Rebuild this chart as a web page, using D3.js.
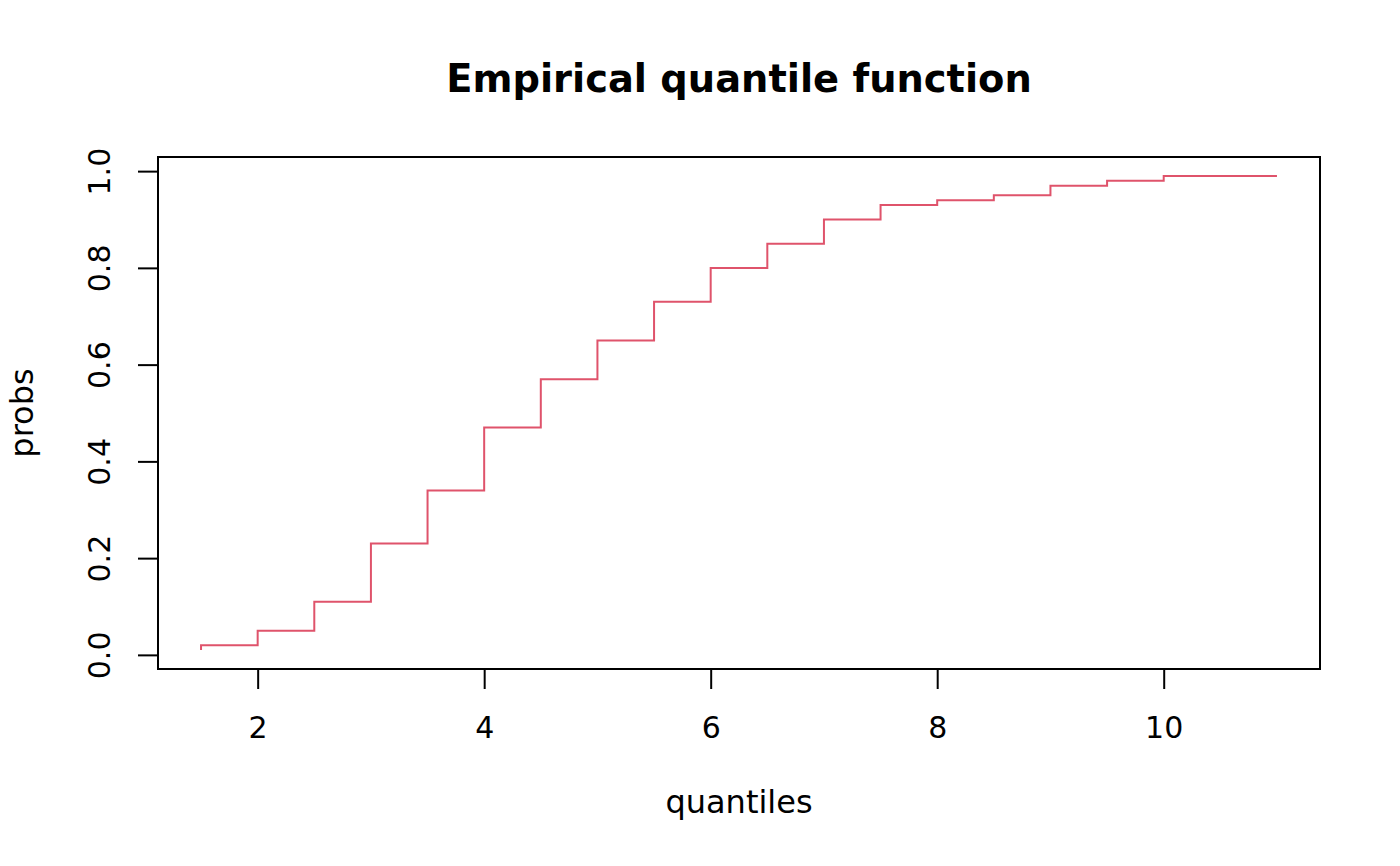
<!DOCTYPE html>
<html><head><meta charset="utf-8">
<script src="https://cdn.jsdelivr.net/npm/d3@7"></script>
<style>body{margin:0;background:#fff}svg{display:block}text{font-family:"DejaVu Sans",sans-serif}</style>
</head><body><svg id="c" width="1400" height="866"></svg>
<script>
const quantiles = [1.5, 1.5, 2, 2.5, 3, 3.5, 4, 4.5, 5, 5.5, 6, 6.5, 7, 7.5, 8, 8.5, 9, 9.5, 10, 11];
const probs     = [0.01, 0.02, 0.05, 0.11, 0.23, 0.34, 0.47, 0.57, 0.65, 0.73, 0.80, 0.85, 0.90, 0.93, 0.94, 0.95, 0.97, 0.98, 0.99, 0.99];
const xTicks = [2, 4, 6, 8, 10];
const yTicks = [0, 0.2, 0.4, 0.6, 0.8, 1.0];
const titleText = "Empirical quantile function";
const xLabel = "quantiles", yLabel = "probs";

const svg = d3.select("#c");
const L = 158, R = 1320, T = 157, B = 669;
const xr = d3.extent(quantiles), yr = d3.extent(probs);
const xp = (xr[1]-xr[0])*0.04, yp = (yr[1]-yr[0])*0.04;
const x = d3.scaleLinear().domain([xr[0]-xp, xr[1]+xp]).range([L, R]);
const y = d3.scaleLinear().domain([yr[0]-yp, yr[1]+yp]).range([B, T]);

const pts = quantiles.map((q,i)=>[q, probs[i]]);
svg.append("path").datum(pts)
  .attr("d", d3.line().x(d=>x(d[0])).y(d=>y(d[1])).curve(d3.curveStepAfter))
  .attr("fill","none").attr("stroke","#DF536B").attr("stroke-width",2);

svg.append("rect").attr("x",L).attr("y",T).attr("width",R-L).attr("height",B-T)
  .attr("fill","none").attr("stroke","#000").attr("stroke-width",2);

const xa = svg.append("g").attr("transform",`translate(0,${B})`)
  .call(d3.axisBottom(x).tickValues(xTicks).tickSize(20).tickPadding(0).tickFormat(d3.format("d")));
xa.select(".domain").attr("d",`M${x(xTicks[0])},0H${x(xTicks[xTicks.length-1])}`).attr("stroke-width",2);
xa.selectAll(".tick line").attr("stroke-width",2);
xa.selectAll(".tick text").attr("y",69).attr("dy",null).attr("font-size",30).attr("font-family","DejaVu Sans").attr("fill","#000");

const ya = svg.append("g").attr("transform",`translate(${L},0)`)
  .call(d3.axisLeft(y).tickValues(yTicks).tickSize(20).tickFormat(d3.format(".1f")));
ya.select(".domain").attr("d",`M0,${y(yTicks[0])}V${y(yTicks[yTicks.length-1])}`).attr("stroke-width",2);
ya.selectAll(".tick line").attr("stroke-width",2);
ya.selectAll(".tick text").attr("x",null).attr("dy",null)
  .attr("transform","translate(-48,0) rotate(-90)").attr("text-anchor","middle")
  .attr("font-size",30).attr("font-family","DejaVu Sans").attr("fill","#000");

svg.append("text").attr("x",(L+R)/2).attr("y",92).attr("text-anchor","middle")
  .attr("font-size",38.4).attr("font-weight","bold").text(titleText);
svg.append("text").attr("x",(L+R)/2).attr("y",813).attr("text-anchor","middle")
  .attr("font-size",32).text(xLabel);
svg.append("text").attr("transform",`translate(33,${(T+B)/2}) rotate(-90)`).attr("text-anchor","middle")
  .attr("font-size",32).text(yLabel);
</script></body></html>
